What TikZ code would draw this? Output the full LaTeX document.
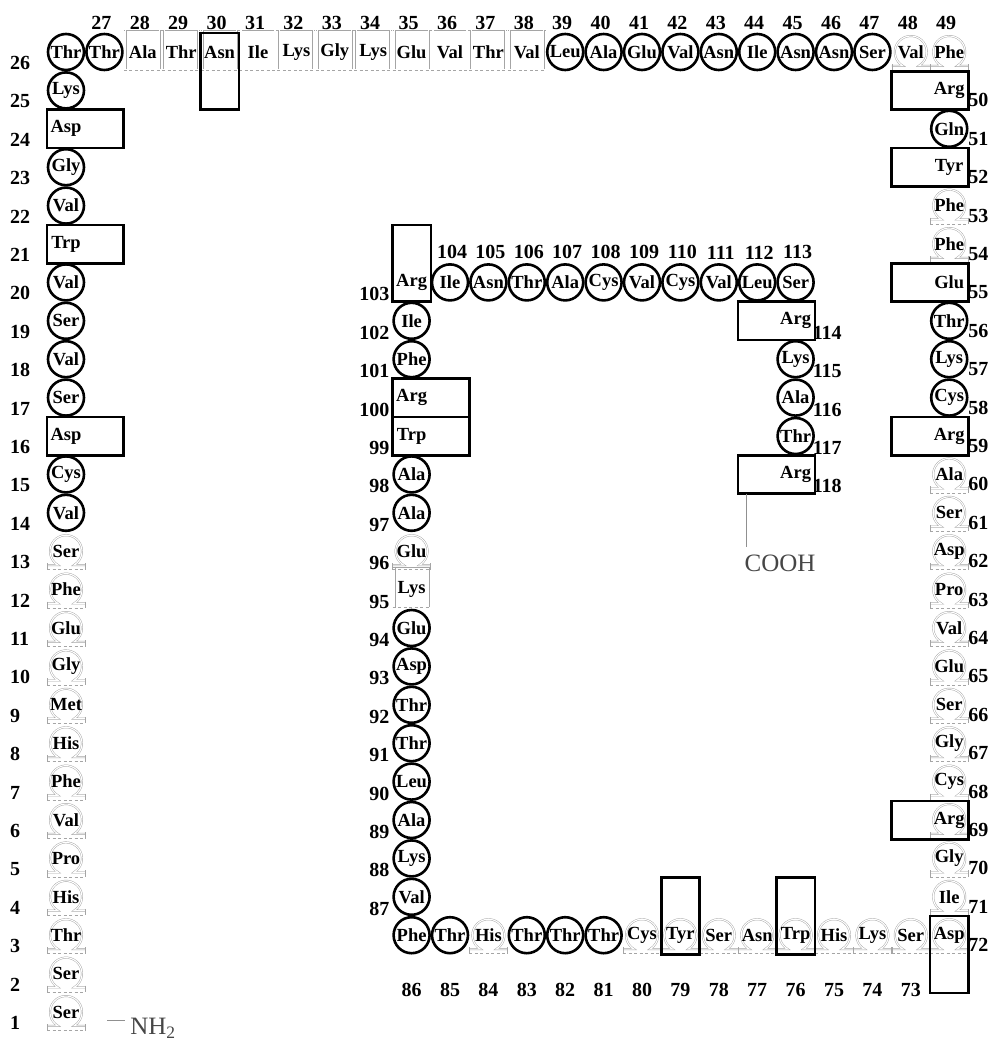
\documentclass[tikz,border=0pt]{standalone}
\usepackage{fontspec}
\setmainfont{Liberation Serif}
\usepackage{xcolor}
\definecolor{fade}{RGB}{165,165,165}
\definecolor{endgray}{RGB}{70,70,70}

\tikzset{
  res/.style={inner sep=0pt, minimum size=36pt, font=\fontsize{18.5}{18.5}\selectfont\bfseries},
  resc/.style={res, circle, draw, line width=2.6pt},
  resb/.style={res, rectangle},
  reso/.style={res},
  resp/.style={res},
  fadeline/.style={fade, line width=0.6pt},
  hollow/.style={fade, line width=0.45pt, double=white, double distance=1.1pt},
  % marks under the residue labels
  markc/.pic={},
  markb/.pic={},
  marko/.pic={
    \begin{scope}[x=1pt, y=1pt]
      \draw[hollow] (-19,-13.86) -- (-8,-13.86) arc[start angle=240, end angle=-60, radius=16] -- (19,-13.86);
      \draw[fadeline] (-19,-12) -- (-19,-18.5) (19,-12) -- (19,-18.5);
      \draw[fadeline, dash pattern=on 3pt off 2.5pt] (-19,-18.5) -- (19,-18.5);
    \end{scope}},
  markp/.pic={
    \begin{scope}[x=1pt, y=1pt]
      \draw[fadeline] (-19,22) -- (19,22);
      \draw[hollow] (-17,22) -- (-17,-17) (17,22) -- (17,-17);
      \draw[fadeline, dash pattern=on 3pt off 2.5pt] (-19,-18) -- (19,-18);
    \end{scope}},
  numo/.style={font=\fontsize{20}{20}\selectfont\bfseries, inner sep=0pt},
  boxline/.style={line width=2.6pt},
  thinline/.style={endgray!60, line width=0.6pt},
  endtext/.style={font=\fontsize{25}{25}\selectfont, text=endgray, inner sep=0pt}
}

\begin{document}
\begin{tikzpicture}[x=38.4pt, y=-38.4pt]
  \useasboundingbox (-1.7188,-1.3542) rectangle (24.1406,25.7813);

  % outer left column
  \foreach \rn/\rname/\rkind in {1/Ser/o, 2/Ser/o, 3/Thr/o, 4/His/o, 5/Pro/o, 6/Val/o,
      7/Phe/o, 8/His/o, 9/Met/o, 10/Gly/o, 11/Glu/o, 12/Phe/o, 13/Ser/o, 14/Val/c,
      15/Cys/c, 16/Asp/b, 17/Ser/c, 18/Val/c, 19/Ser/c, 20/Val/c, 21/Trp/b, 22/Val/c,
      23/Gly/c, 24/Asp/b, 25/Lys/c, 26/Thr/c}{
    \pic at (0,26-\rn) {mark\rkind};
    \node[res\rkind] (r\rn) at (0,26-\rn) {\rname};
    \node[numo, anchor=west] (n\rn) at ([xshift=-56pt, yshift=-11pt]r\rn.center) {\rn};
  }

  % top row
  \foreach \rn/\rname/\rkind in {27/Thr/c, 28/Ala/p, 29/Thr/p, 30/Asn/p, 31/Ile/p,
      32/Lys/p, 33/Gly/p, 34/Lys/p, 35/Glu/p, 36/Val/p, 37/Thr/p, 38/Val/p, 39/Leu/c,
      40/Ala/c, 41/Glu/c, 42/Val/c, 43/Asn/c, 44/Ile/c, 45/Asn/c, 46/Asn/c, 47/Ser/c,
      48/Val/o, 49/Phe/o}{
    \pic at (\rn-26,0) {mark\rkind};
    \node[res\rkind] (r\rn) at (\rn-26,0) {\rname};
    \node[numo] (n\rn) at ([xshift=-3pt, yshift=29pt]r\rn.center) {\rn};
  }

  % outer right column
  \foreach \rn/\rname/\rkind in {50/Arg/b, 51/Gln/c, 52/Tyr/b, 53/Phe/o, 54/Phe/o,
      55/Glu/b, 56/Thr/c, 57/Lys/c, 58/Cys/c, 59/Arg/b, 60/Ala/o, 61/Ser/o, 62/Asp/o,
      63/Pro/o, 64/Val/o, 65/Glu/o, 66/Ser/o, 67/Gly/o, 68/Cys/o, 69/Arg/o, 70/Gly/o,
      71/Ile/o, 72/Asp/o}{
    \pic at (23,\rn-49) {mark\rkind};
    \node[res\rkind] (r\rn) at (23,\rn-49) {\rname};
    \node[numo, anchor=west] (n\rn) at ([xshift=19pt, yshift=-10pt]r\rn.center) {\rn};
  }

  % bottom row
  \foreach \rn/\rname/\rkind in {73/Ser/o, 74/Lys/o, 75/His/o, 76/Trp/o, 77/Asn/o,
      78/Ser/o, 79/Tyr/o, 80/Cys/o, 81/Thr/c, 82/Thr/c, 83/Thr/c, 84/His/o, 85/Thr/c,
      86/Phe/c}{
    \pic at (95-\rn,23) {mark\rkind};
    \node[res\rkind] (r\rn) at (95-\rn,23) {\rname};
    \node[numo] (n\rn) at ([yshift=-55pt]r\rn.center) {\rn};
  }

  % inner left column
  \foreach \rn/\rname/\rkind in {87/Val/c, 88/Lys/c, 89/Ala/c, 90/Leu/c, 91/Thr/c,
      92/Thr/c, 93/Asp/c, 94/Glu/c, 95/Lys/p, 96/Glu/o, 97/Ala/c, 98/Ala/c, 99/Trp/b,
      100/Arg/b, 101/Phe/c, 102/Ile/c, 103/Arg/b}{
    \pic at (9,109-\rn) {mark\rkind};
    \node[res\rkind] (r\rn) at (9,109-\rn) {\rname};
    \node[numo, anchor=east] (n\rn) at ([xshift=-22pt, yshift=-12pt]r\rn.center) {\rn};
  }

  % inner top row
  \foreach \rn/\rname/\rkind in {104/Ile/c, 105/Asn/c, 106/Thr/c, 107/Ala/c, 108/Cys/c,
      109/Val/c, 110/Cys/c, 111/Val/c, 112/Leu/c, 113/Ser/c}{
    \node[res\rkind] (r\rn) at (\rn-94,6) {\rname};
    \node[numo] (n\rn) at ([xshift=2pt, yshift=30pt]r\rn.center) {\rn};
  }

  % inner right column
  \foreach \rn/\rname/\rkind in {114/Arg/b, 115/Lys/c, 116/Ala/c, 117/Thr/c, 118/Arg/b}{
    \node[res\rkind] (r\rn) at (19,\rn-107) {\rname};
    \node[numo, anchor=west] (n\rn) at ([xshift=17pt, yshift=-12pt]r\rn.center) {\rn};
  }

  % boxes
  \foreach \rn in {16,21,24,99,100}
    \draw[boxline] ([shift={(-0.5,-0.5)}]r\rn.center) rectangle ([shift={(1.5,0.5)}]r\rn.center);
  \foreach \rn in {50,52,55,59,69,114,118}
    \draw[boxline] ([shift={(-1.5,-0.5)}]r\rn.center) rectangle ([shift={(0.5,0.5)}]r\rn.center);
  \foreach \rn in {30,72}
    \draw[boxline] ([shift={(-0.5,-0.5)}]r\rn.center) rectangle ([shift={(0.5,1.5)}]r\rn.center);
  \foreach \rn in {76,79,103}
    \draw[boxline] ([shift={(-0.5,-1.5)}]r\rn.center) rectangle ([shift={(0.5,0.5)}]r\rn.center);

  % ends
  \node[endtext] (nh2) at ([xshift=87pt, yshift=-16pt]r1.center) {NH\textsubscript{2}};
  \coordinate (nh2line) at ([xshift=41pt, yshift=-8pt]r1.center);
  \draw[thinline] (nh2line) -- ([xshift=-5pt]nh2line -| nh2.west);
  \node[endtext] (cooh) at ([xshift=-15.6pt, yshift=-88.6pt]r118.center) {COOH};
  \coordinate (coohtop) at ([xshift=-49.6pt, yshift=-73pt]r118.center);
  \draw[thinline] ([yshift=-19.2pt]r118.center -| coohtop) -- (coohtop);
\end{tikzpicture}
\end{document}
